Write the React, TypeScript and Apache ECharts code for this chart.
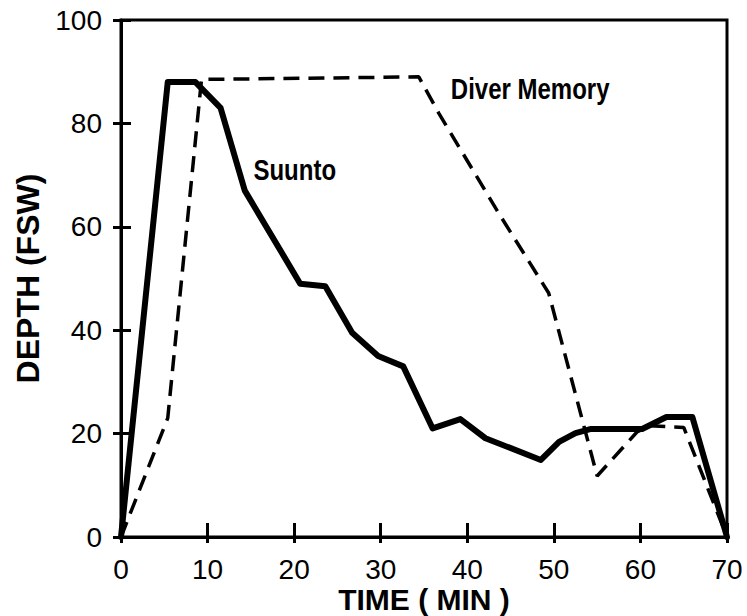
import React, { useEffect, useRef } from "react";
import * as echarts from "echarts";

// Dive profile: depth (fsw) against elapsed time (min)
const suuntoTime = [0, 5.4, 8.6, 11.5, 14.3, 20.7, 23.6, 26.7, 29.7, 32.6, 36.0, 39.2, 42.1, 48.5, 50.6, 52.5, 54.3, 60.2, 63.0, 66.0, 70];
const suuntoDepth = [0, 88, 88, 83, 67, 49, 48.5, 39.5, 35, 33, 21, 22.8, 19.1, 14.9, 18.4, 20.1, 20.9, 20.9, 23.2, 23.2, 0];

const memoryTime = [0, 5.4, 9.3, 34.4, 36.7, 43.6, 49.4, 55.0, 59.6, 61.0, 65.0, 70];
const memoryDepth = [0, 23, 88.5, 89, 82, 62.7, 47.2, 11.8, 20.3, 21.5, 21.2, 0];

const timeTicks = { min: 0, max: 70, interval: 10 };
const depthTicks = { min: 0, max: 100, interval: 20 };

// Curve names, anchored (left edge, vertical middle) in data units
const seriesLabels = [
  { name: "Suunto", at: [15.3, 71] },
  { name: "Diver Memory", at: [38.1, 86.7] },
];

const SANS = "'Liberation Sans', Arial, Helvetica, sans-serif";

const zip = (xs: number[], ys: number[]) => xs.map((x, i) => [x, ys[i]]);

export default function App() {
  const ref = useRef<HTMLDivElement>(null);

  useEffect(() => {
    if (!ref.current) return;
    const chart = echarts.init(ref.current, undefined, { renderer: "svg" });

    const axisLine = { show: true, lineStyle: { color: "#000", width: 3 } };
    const tickStyle = { color: "#000", width: 3 };

    chart.setOption({
      animation: false,
      backgroundColor: "#fff",
      grid: {
        left: 121,
        right: 20,
        top: 20,
        bottom: 79,
        outerBoundsMode: "none",
        containLabel: false,
        show: true,
        borderColor: "#000",
        borderWidth: 3,
        backgroundColor: "transparent",
      },
      xAxis: [
        {
          type: "value",
          ...timeTicks,
          position: "bottom",
          axisLine,
          splitLine: { show: false },
          axisTick: { show: true, inside: false, length: 6, lineStyle: tickStyle },
          axisLabel: { color: "#000", fontFamily: SANS, fontSize: 28, margin: 18 },
          name: "TIME ( MIN )",
          nameLocation: "middle",
          nameGap: 47,
          nameMoveOverlap: false,
          nameTextStyle: { color: "#000", fontFamily: SANS, fontWeight: "bold", fontSize: 30 },
        },
        {
          type: "value",
          ...timeTicks,
          position: "bottom",
          offset: 0,
          axisLine: { show: false },
          splitLine: { show: false },
          axisTick: { show: true, inside: true, length: 14, lineStyle: tickStyle },
          axisLabel: { show: false },
        },
      ],
      yAxis: [
        {
          type: "value",
          ...depthTicks,
          position: "left",
          axisLine,
          splitLine: { show: false },
          axisTick: { show: true, inside: false, length: 8, lineStyle: tickStyle },
          axisLabel: { color: "#000", fontFamily: SANS, fontSize: 28, margin: 19 },
          name: "DEPTH (FSW)",
          nameLocation: "middle",
          nameGap: 74,
          nameTextStyle: { color: "#000", fontFamily: SANS, fontWeight: "bold", fontSize: 32 },
        },
        {
          type: "value",
          ...depthTicks,
          position: "left",
          offset: 0,
          axisLine: { show: false },
          splitLine: { show: false },
          axisTick: { show: true, inside: true, length: 10, lineStyle: tickStyle },
          axisLabel: { show: false },
        },
      ],
      series: [
        {
          name: "Suunto",
          type: "line",
          data: zip(suuntoTime, suuntoDepth),
          symbol: "none",
          lineStyle: { color: "#000", width: 6, join: "round", cap: "round" },
          z: 3,
        },
        {
          name: "Diver Memory",
          type: "line",
          data: zip(memoryTime, memoryDepth),
          symbol: "none",
          lineStyle: { color: "#000", width: 3.5, type: [16, 9] },
          z: 2,
        },
      ],
    });

    // Curve names as condensed bold text, placed through the chart's own scales
    const graphic = seriesLabels.map((l) => {
      const [px, py] = chart.convertToPixel({ gridIndex: 0 }, l.at) as number[];
      return {
        type: "text",
        x: px,
        y: py,
        scaleX: 0.8,
        silent: true,
        style: {
          text: l.name,
          fill: "#000",
          font: `bold 30px ${SANS}`,
          textAlign: "left",
          textVerticalAlign: "middle",
        },
        z: 10,
      };
    });
    chart.setOption({ graphic });

    return () => chart.dispose();
  }, []);

  return <div ref={ref} style={{ width: 747, height: 616, position: "absolute", left: 0, top: 0 }} />;
}
